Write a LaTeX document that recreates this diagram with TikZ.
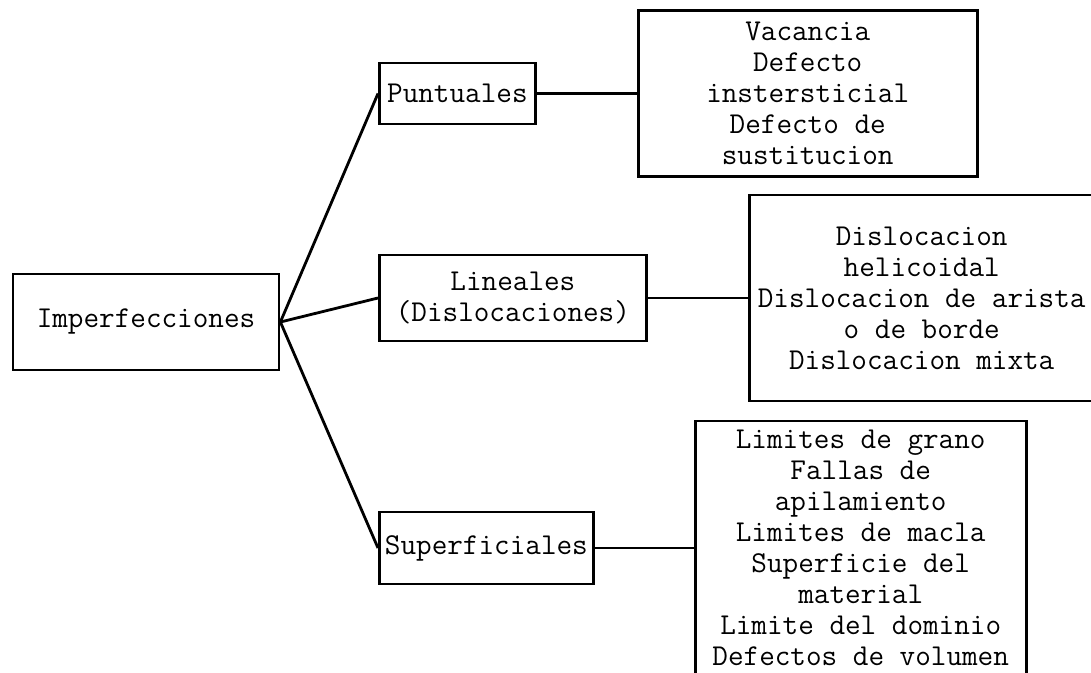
\documentclass[tikz,border=0pt]{standalone}
\usetikzlibrary{positioning}
\tikzset{
  link/.style={line width=2.8pt, draw=black},
  branchbox/.style={draw=black, line width=2.8pt, align=center, inner sep=0pt,
    font=\ttfamily\fontsize{30.3}{31}\selectfont},
  listbox/.style={branchbox, anchor=west}
}

\begin{document}
\begin{tikzpicture}[x=1pt, y=-1pt, node distance=100pt]
        \useasboundingbox (0,0) rectangle (1091,672);

        \node[branchbox, minimum width=266pt, minimum height=96pt] (imp) at (146,322) {Imperfecciones};

        \node[branchbox, anchor=west, minimum width=156pt, minimum height=61pt] (punt) at (378,93.5) {Puntuales};
        \node[branchbox, anchor=west, minimum width=267pt, minimum height=86pt] (lin) at (378,298) {Lineales\\(Dislocaciones)};
        \node[branchbox, anchor=west, minimum width=214pt, minimum height=72pt] (sup) at (378,548) {Superficiales};

        \node[listbox, right=of punt, minimum width=339pt, minimum height=166pt] (puntlist)
          {Vacancia\\Defecto\\instersticial\\Defecto de\\sustitucion};
        \node[listbox, right=of lin, minimum width=345pt, minimum height=206pt] (linlist)
          {Dislocacion\\helicoidal\\Dislocacion de arista\\o de borde\\Dislocacion mixta};
        \node[listbox, right=99pt of sup, minimum width=331pt, minimum height=254pt] (suplist)
          {Limites de grano\\Fallas de\\apilamiento\\Limites de macla\\Superficie del\\material\\Limite del dominio\\Defectos de volumen};

        \draw[link] (imp.east) -- (punt.west);
        \draw[link] (imp.east) -- (lin.west);
        \draw[link] (imp.east) -- (sup.west);
        \draw[link] (punt) -- (puntlist);
        \draw[link] (lin) -- (linlist);
        \draw[link] (sup) -- (suplist);
    \end{tikzpicture}
\end{document}
